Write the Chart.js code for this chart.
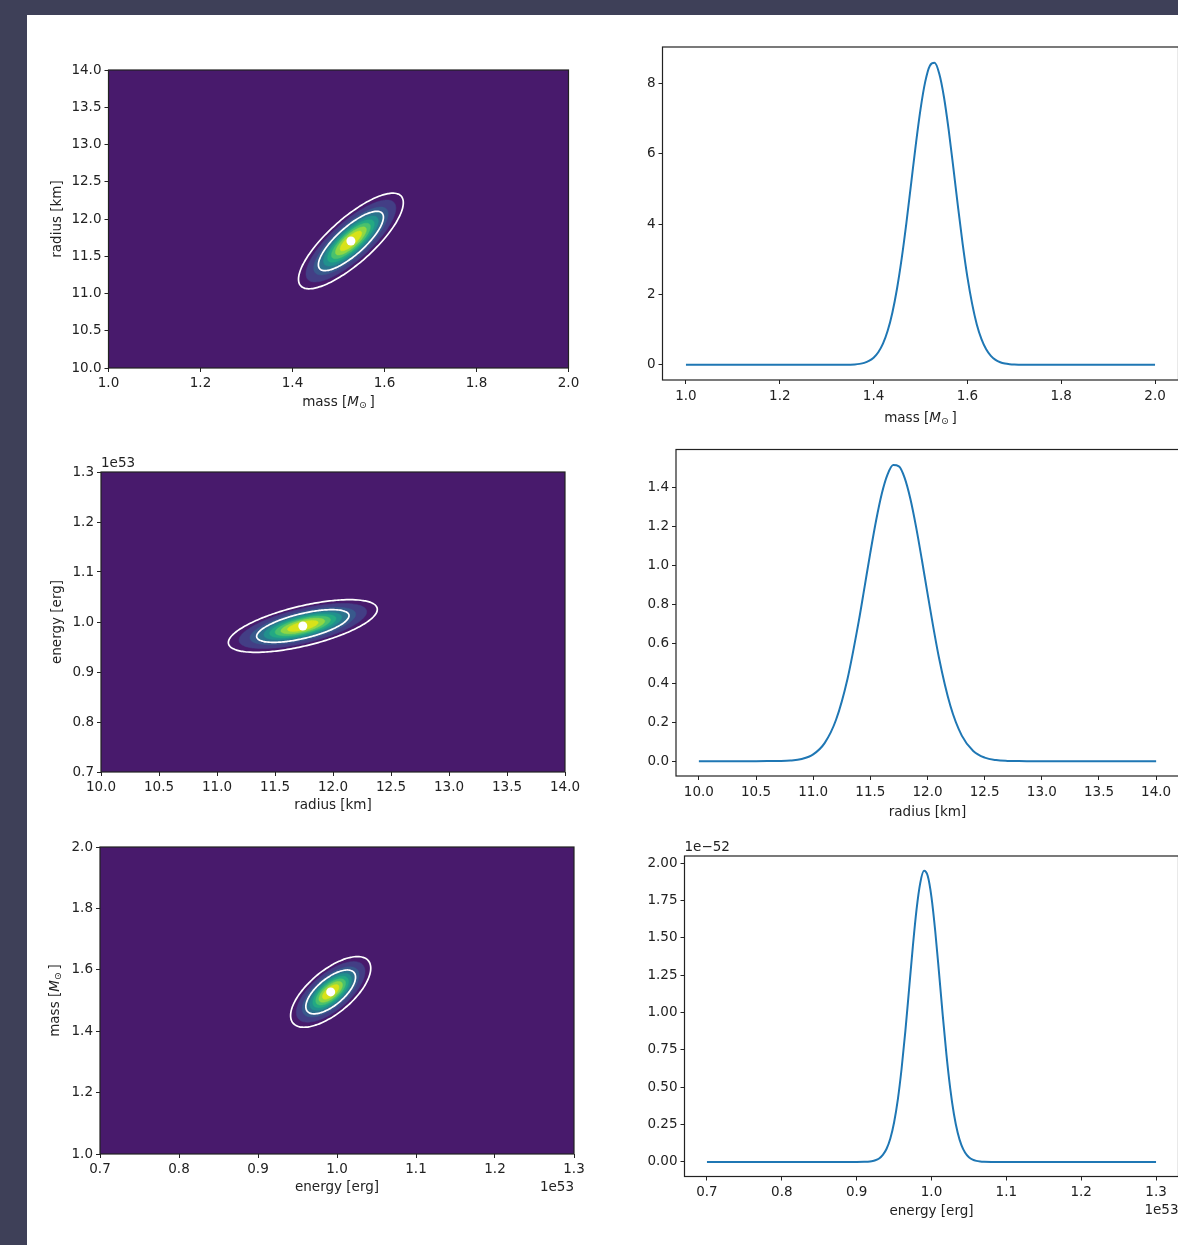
<!DOCTYPE html>
<html>
<head>
<meta charset="utf-8">
<script src="https://cdn.jsdelivr.net/npm/chart.js@4.4.1/dist/chart.umd.min.js"></script>
<style>
  html, body { margin: 0; padding: 0; background: #fff; overflow: hidden; width: 1178px; height: 1245px; }
  #edgeTop { position: absolute; left: 0; top: 0; width: 1178px; height: 15px; background: #3e4058; }
  #edgeLeft { position: absolute; left: 0; top: 0; width: 27px; height: 1245px; background: #3e4058; }
  canvas { position: absolute; }
</style>
</head>
<body>
<div id="edgeTop"></div>
<div id="edgeLeft"></div>
<canvas id="massRadius"></canvas>
<canvas id="massMarginal"></canvas>
<canvas id="radiusEnergy"></canvas>
<canvas id="radiusMarginal"></canvas>
<canvas id="energyMass"></canvas>
<canvas id="energyMarginal"></canvas>
<script>
// joint posteriors: mean, standard deviation, correlation
// (energy in units of 1e53 erg)
const massRadiusMean = [1.527, 11.705];
const massRadiusSd = [0.0465, 0.262];
const massRadiusRho = 0.8;

const radiusEnergyMean = [11.74, 0.992];
const radiusEnergySd = [0.262, 0.0215];
const radiusEnergyRho = 0.63;

const energyMassMean = [0.992, 1.528];
const energyMassSd = [0.0207, 0.047];
const energyMassRho = 0.67;

// filled bands (fraction of the peak density) and the two white credible contours
const densityLevels = [0.11, 0.22, 0.33, 0.44, 0.55, 0.66, 0.77, 0.88];
const credibleRadii = [1.52, 2.45];
const bandColors = ['#481a6c', '#433e85', '#38598c', '#2c738e', '#21908d', '#23a983', '#4ac16d', '#8fd744', '#d8e219'];

// marginal densities
const massGrid = [1.0, 1.1, 1.2, 1.3, 1.34,
  1.36, 1.37, 1.38, 1.39, 1.40, 1.41, 1.42, 1.43, 1.44, 1.45,
  1.46, 1.47, 1.48, 1.49, 1.50, 1.51, 1.52, 1.53, 1.54, 1.55,
  1.56, 1.57, 1.58, 1.59, 1.60, 1.61, 1.62, 1.63, 1.64, 1.65,
  1.66, 1.67, 1.68, 1.69, 1.70, 1.72, 1.8, 1.9, 2.0];
const massDensity = [0, 0, 0, 0, 0.002,
  0.013, 0.028, 0.057, 0.110, 0.203, 0.358, 0.602, 0.967, 1.483, 2.170,
  3.03, 4.04, 5.15, 6.26, 7.26, 8.04, 8.50, 8.58, 8.27, 7.61,
  6.68, 5.60, 4.48, 3.42, 2.49, 1.74, 1.15, 0.732, 0.443, 0.256,
  0.141, 0.074, 0.037, 0.018, 0.008, 0.002, 0, 0, 0];

const radiusGrid = [10.0, 10.5, 10.6, 10.7, 10.8, 10.9, 11.0, 11.1, 11.2, 11.3, 11.4, 11.45, 11.5,
  11.55, 11.6, 11.65, 11.7, 11.75, 11.8, 11.85, 11.9, 11.95, 12.0, 12.1, 12.2, 12.3, 12.4, 12.5,
  12.6, 12.7, 12.8, 12.9, 13.5, 14.0];
const radiusDensity = [0, 0, 0.0002, 0.0008, 0.0032, 0.0114, 0.0348, 0.0924, 0.212, 0.421, 0.721, 0.894, 1.068,
  1.231, 1.369, 1.467, 1.516, 1.510, 1.451, 1.344, 1.200, 1.034, 0.859, 0.531, 0.284, 0.131, 0.0524, 0.0181,
  0.0054, 0.0014, 0.0003, 0.0001, 0, 0];

// energy in 1e53 erg, density in 1e-52 per erg
const energyGrid = [0.7, 0.8, 0.9, 0.91, 0.915,
  0.920, 0.925, 0.930, 0.935, 0.940, 0.945, 0.950, 0.955, 0.960, 0.965,
  0.970, 0.975, 0.980, 0.985, 0.990, 0.995, 1.000, 1.005, 1.010, 1.015,
  1.020, 1.025, 1.030, 1.035, 1.040, 1.045, 1.050, 1.055, 1.060, 1.065,
  1.070, 1.080, 1.1, 1.2, 1.3];
const energyDensity = [0, 0, 0, 0.0008, 0.002,
  0.005, 0.011, 0.023, 0.047, 0.088, 0.157, 0.264, 0.417, 0.622, 0.872,
  1.154, 1.438, 1.689, 1.868, 1.948, 1.913, 1.771, 1.544, 1.269, 0.983,
  0.717, 0.493, 0.319, 0.195, 0.112, 0.061, 0.031, 0.015, 0.007, 0.003,
  0.001, 0, 0, 0, 0];

// ticks and axis limits
const massTicks = [1.0, 1.2, 1.4, 1.6, 1.8, 2.0];
const radiusTicks = [10.0, 10.5, 11.0, 11.5, 12.0, 12.5, 13.0, 13.5, 14.0];
const energyTicks = [0.7, 0.8, 0.9, 1.0, 1.1, 1.2, 1.3];
const massDensityTicks = [0, 2, 4, 6, 8];
const radiusDensityTicks = [0.0, 0.2, 0.4, 0.6, 0.8, 1.0, 1.2, 1.4];
const energyDensityTicks = [0.0, 0.25, 0.5, 0.75, 1.0, 1.25, 1.5, 1.75, 2.0];

const massRange = [1.0, 2.0], radiusRange = [10, 14], energyRange = [0.7, 1.3];
const massMarginRange = [0.95, 2.05], radiusMarginRange = [9.8, 14.2], energyMarginRange = [0.67, 1.33];
const massDensityRange = [-0.43, 9.03], radiusDensityRange = [-0.076, 1.596], energyDensityRange = [-0.0975, 2.0475];

Chart.defaults.font.family = "'DejaVu Sans', sans-serif";
Chart.defaults.font.size = 13.5;
Chart.defaults.color = '#222';
const INK = '#222';
const LH = 13.5 * 1.2;
const LINE = '#1f77b4';

function ellipse(mean, sd, rho, r) {
  const pts = [];
  const q = Math.sqrt(1 - rho * rho);
  for (let k = 0; k <= 120; k++) {
    const t = 2 * Math.PI * k / 120;
    const u = Math.cos(t), v = Math.sin(t);
    pts.push({ x: mean[0] + r * sd[0] * u, y: mean[1] + r * sd[1] * (rho * u + q * v) });
  }
  return pts;
}

function jointDatasets(mean, sd, rho) {
  const ds = [];
  densityLevels.forEach((f, i) => {
    const c = bandColors[i + 1];
    ds.push({
      type: 'line', data: ellipse(mean, sd, rho, Math.sqrt(-2 * Math.log(f))),
      backgroundColor: c, borderColor: c, borderWidth: 0.5, pointRadius: 0, fill: 'shape',
      tension: 0.3, order: 20 - i
    });
  });
  credibleRadii.forEach(r => ds.push({
    type: 'line', data: ellipse(mean, sd, rho, r),
    borderColor: '#ffffff', borderWidth: 1.7, pointRadius: 0, fill: false,
    tension: 0.3, borderJoinStyle: 'round', borderCapStyle: 'round', order: 2
  }));
  ds.push({
    type: 'scatter', data: [{ x: mean[0], y: mean[1] }],
    pointRadius: 4.5, backgroundColor: '#ffffff', borderColor: '#ffffff', borderWidth: 0, order: 0
  });
  return ds;
}

function curveDataset(grid, dens) {
  return {
    type: 'line', data: grid.map((x, i) => ({ x, y: dens[i] })),
    borderColor: LINE, borderWidth: 2, pointRadius: 0, fill: false,
    cubicInterpolationMode: 'monotone', borderJoinStyle: 'round'
  };
}

function axisOpts(ticks, dec, range, isX, size, pad, titleText) {
  return {
    type: 'linear', min: range[0], max: range[1],
    afterBuildTicks: ax => { ax.ticks = ticks.map(v => ({ value: v })); },
    afterFit: ax => { if (isX) ax.height = size; else ax.width = size; },
    ticks: { autoSkip: false, maxRotation: 0, padding: pad, color: INK, callback: v => Number(v).toFixed(dec) },
    grid: { drawOnChartArea: false, drawTicks: true, tickLength: 4, tickColor: INK, lineWidth: 1 },
    border: { display: false },
    title: { display: !!titleText, text: titleText || '', padding: 0, color: INK, font: { size: 13.5, lineHeight: 1.2 } }
  };
}

const framePlugin = {
  id: 'frame',
  afterDatasetsDraw(chart) {
    const { ctx, chartArea: a } = chart;
    ctx.save();
    ctx.strokeStyle = INK;
    ctx.lineWidth = 1.2;
    ctx.strokeRect(a.left, a.top, a.right - a.left, a.bottom - a.top);
    ctx.restore();
  }
};

const backdropPlugin = {
  id: 'backdrop',
  beforeDatasetsDraw(chart) {
    const { ctx, chartArea: a } = chart;
    ctx.save();
    ctx.fillStyle = bandColors[0];
    ctx.fillRect(a.left, a.top, a.right - a.left, a.bottom - a.top);
    ctx.restore();
  }
};

function massTitlePlugin(axis) {
  return {
    id: 'massTitle',
    afterDraw(chart) {
      const { ctx, chartArea: a } = chart;
      ctx.save();
      if (axis === 'x') {
        ctx.translate((a.left + a.right) / 2, chart.height - LH / 2);
      } else {
        ctx.translate(LH / 2, (a.top + a.bottom) / 2);
        ctx.rotate(-Math.PI / 2);
      }
      const fam = "'DejaVu Sans', sans-serif";
      const parts = [
        { t: 'mass [', f: '13.5px ' + fam, dy: 0 },
        { t: 'M', f: 'italic 13.5px ' + fam, dy: 0 },
        { t: '\u2299', f: '9.5px ' + fam, dy: 3 },
        { t: '\u2009]', f: '13.5px ' + fam, dy: 0 }
      ];
      let w = 0;
      parts.forEach(p => { ctx.font = p.f; p.w = ctx.measureText(p.t).width; w += p.w; });
      let x = -w / 2;
      ctx.fillStyle = INK;
      ctx.textBaseline = 'middle';
      ctx.textAlign = 'left';
      parts.forEach(p => { ctx.font = p.f; ctx.fillText(p.t, x, p.dy); x += p.w; });
      ctx.restore();
    }
  };
}

function notesPlugin(notes) {
  return {
    id: 'offsetNotes',
    afterDraw(chart) {
      const { ctx, chartArea: a } = chart;
      ctx.save();
      ctx.font = "13.5px 'DejaVu Sans', sans-serif";
      ctx.fillStyle = INK;
      ctx.textBaseline = 'middle';
      notes.forEach(n => {
        if (n.pos === 'top') { ctx.textAlign = 'left'; ctx.fillText(n.text, a.left, a.top - 9); }
        else { ctx.textAlign = 'right'; ctx.fillText(n.text, a.right, a.bottom + 33.5); }
      });
      ctx.restore();
    }
  };
}

function makePanel(p) {
  const canvas = document.getElementById(p.id);
  const left = Math.round(p.yTitleX != null ? p.yTitleX - LH / 2 : p.L - 52);
  const top = Math.round(p.T - 24);
  const right = Math.round(p.R + 24);
  const bottom = Math.round(p.xTitleY + LH / 2);
  canvas.width = right - left;
  canvas.height = bottom - top;
  canvas.style.left = left + 'px';
  canvas.style.top = top + 'px';
  canvas.style.width = (right - left) + 'px';
  canvas.style.height = (bottom - top) + 'px';

  const yW = p.L - left, xH = bottom - p.B;
  const plugins = [framePlugin];
  if (p.joint) plugins.unshift(backdropPlugin);
  if (p.massTitle) plugins.push(massTitlePlugin(p.massTitle));
  if (p.notes) plugins.push(notesPlugin(p.notes));

  return new Chart(canvas, {
    type: 'scatter',
    data: { datasets: p.datasets },
    options: {
      responsive: false,
      animation: false,
      devicePixelRatio: 1,
      events: [],
      layout: { padding: { left: 0, bottom: 0, top: p.T - top, right: right - p.R } },
      plugins: { legend: { display: false }, tooltip: { enabled: false } },
      scales: {
        x: axisOpts(p.xTicks, p.xDec, p.xRange, true, xH, p.tickPad, p.xTitle),
        y: axisOpts(p.yTicks, p.yDec, p.yRange, false, yW, 3, p.yTitle)
      }
    },
    plugins
  });
}

makePanel({
  id: 'massRadius', L: 108.5, R: 568.5, T: 70, B: 368, xTitleY: 403, yTitleX: 57, tickPad: 3,
  joint: true, massTitle: 'x', yTitle: 'radius [km]',
  xTicks: massTicks, xDec: 1, xRange: massRange,
  yTicks: radiusTicks, yDec: 1, yRange: radiusRange,
  datasets: jointDatasets(massRadiusMean, massRadiusSd, massRadiusRho)
});

makePanel({
  id: 'massMarginal', L: 662.5, R: 1178.5, T: 47, B: 380, xTitleY: 419, tickPad: 4,
  massTitle: 'x',
  xTicks: massTicks, xDec: 1, xRange: massMarginRange,
  yTicks: massDensityTicks, yDec: 0, yRange: massDensityRange,
  datasets: [curveDataset(massGrid, massDensity)]
});

makePanel({
  id: 'radiusEnergy', L: 101, R: 565, T: 472, B: 772, xTitleY: 806, yTitleX: 57, tickPad: 3,
  joint: true, xTitle: 'radius [km]', yTitle: 'energy [erg]',
  notes: [{ text: '1e53', pos: 'top' }],
  xTicks: radiusTicks, xDec: 1, xRange: radiusRange,
  yTicks: energyTicks, yDec: 1, yRange: energyRange,
  datasets: jointDatasets(radiusEnergyMean, radiusEnergySd, radiusEnergyRho)
});

makePanel({
  id: 'radiusMarginal', L: 676, R: 1179, T: 449.5, B: 776, xTitleY: 813, tickPad: 4,
  xTitle: 'radius [km]',
  xTicks: radiusTicks, xDec: 1, xRange: radiusMarginRange,
  yTicks: radiusDensityTicks, yDec: 1, yRange: radiusDensityRange,
  datasets: [curveDataset(radiusGrid, radiusDensity)]
});

makePanel({
  id: 'energyMass', L: 100, R: 574, T: 847, B: 1154, xTitleY: 1188, yTitleX: 55, tickPad: 3,
  joint: true, massTitle: 'y', xTitle: 'energy [erg]',
  notes: [{ text: '1e53', pos: 'bottom' }],
  xTicks: energyTicks, xDec: 1, xRange: energyRange,
  yTicks: massTicks, yDec: 1, yRange: massRange,
  datasets: jointDatasets(energyMassMean, energyMassSd, energyMassRho)
});

makePanel({
  id: 'energyMarginal', L: 684.5, R: 1178.5, T: 856, B: 1176.5, xTitleY: 1212, tickPad: 3.5,
  xTitle: 'energy [erg]',
  notes: [{ text: '1e\u221252', pos: 'top' }, { text: '1e53', pos: 'bottom' }],
  xTicks: energyTicks, xDec: 1, xRange: energyMarginRange,
  yTicks: energyDensityTicks, yDec: 2, yRange: energyDensityRange,
  datasets: [curveDataset(energyGrid, energyDensity)]
});
</script>
</body>
</html>
